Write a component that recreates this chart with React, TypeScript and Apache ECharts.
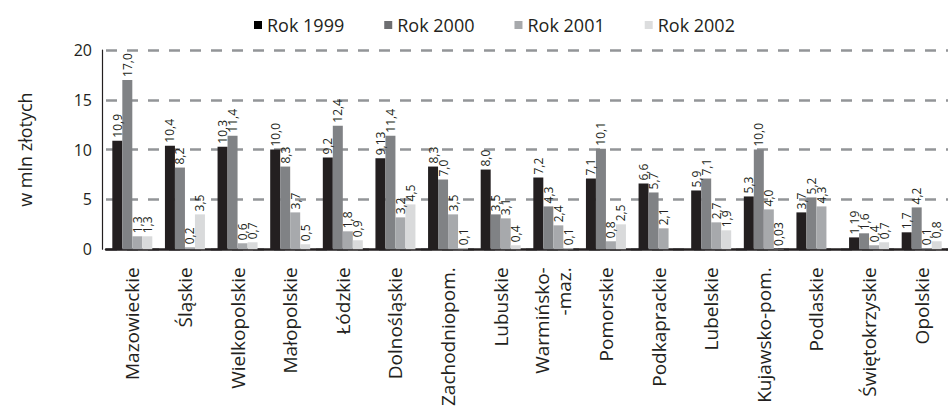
import React, { useEffect, useRef } from "react";
import * as echarts from "echarts";

// Voivodeships (names as printed on the axis)
const regions = [
  "Mazowieckie",
  "Śląskie",
  "Wielkopolskie",
  "Małopolskie",
  "Łódzkie",
  "Dolnośląskie",
  "Zachodniopom.",
  "Lubuskie",
  "Warmińsko-\n-maz.",
  "Pomorskie",
  "Podkaprackie",
  "Lubelskie",
  "Kujawsko-pom.",
  "Podlaskie",
  "Świętokrzyskie",
  "Opolskie",
];

// Amounts in mln PLN per year
const rok1999 = [10.9, 10.4, 10.3, 10.0, 9.2, 9.13, 8.3, 8.0, 7.2, 7.1, 6.6, 5.9, 5.3, 3.7, 1.19, 1.7];
const rok2000 = [17.0, 8.2, 11.4, 8.3, 12.4, 11.4, 7.0, 3.5, 4.3, 10.1, 5.7, 7.1, 10.0, 5.2, 1.6, 4.2];
const rok2001 = [1.3, 0.2, 0.6, 3.7, 1.8, 3.2, 3.5, 3.1, 2.4, 0.8, 2.1, 2.7, 4.0, 4.3, 0.4, 0.1];
const rok2002 = [1.3, 3.5, 0.7, 0.5, 0.9, 4.5, 0.1, 0.4, 0.1, 2.5, null, 1.9, 0.03, null, 0.7, 0.8];

const seriesNames = ["Rok 1999", "Rok 2000", "Rok 2001", "Rok 2002"];
const barColors = ["#231f20", "#808285", "#a7a9ac", "#d9dadb"];
const legendColors = ["#000000", "#6d6e71", "#a7a9ac", "#dcddde"];

const yTicks = { min: 0, max: 20, interval: 5 };

const FONT = "'Open Sans', sans-serif";
const INK = "#231f20";

// Polish decimal comma, one decimal place unless the value carries more
function formatPl(v: number): string {
  const s = Math.abs(v * 10 - Math.round(v * 10)) > 1e-6 ? v.toFixed(2) : v.toFixed(1);
  return s.replace(".", ",");
}

export default function App() {
  const ref = useRef<HTMLDivElement>(null);

  useEffect(() => {
    document.body.style.margin = "0";
    if (!ref.current) return;
    const chart = echarts.init(ref.current, null, { renderer: "svg" });

    const data = [rok1999, rok2000, rok2001, rok2002];

    chart.setOption({
      animation: false,
      backgroundColor: "#ffffff",
      textStyle: { fontFamily: FONT },
      legend: {
        left: 249,
        top: 11,
        itemWidth: 8,
        itemHeight: 8,
        itemGap: 40,
        icon: "rect",
        textStyle: { fontFamily: FONT, fontSize: 18, color: INK },
        data: seriesNames.map((name, i) => ({
          name,
          itemStyle: { color: legendColors[i] },
        })),
      },
      grid: { left: 106, top: 50, width: 848, bottom: 158 },
      xAxis: {
        type: "category",
        data: regions,
        axisLine: { show: true, lineStyle: { color: INK, width: 2.5 } },
        axisTick: { show: false },
        axisLabel: {
          rotate: 90,
          interval: 0,
          margin: 18,
          fontFamily: FONT,
          fontSize: 19,
          lineHeight: 22,
          color: INK,
        },
      },
      yAxis: {
        type: "value",
        min: yTicks.min,
        max: yTicks.max,
        interval: yTicks.interval,
        offset: 4,
        name: "w mln złotych",
        nameLocation: "middle",
        nameRotate: 90,
        nameGap: 68,
        nameTextStyle: { fontFamily: FONT, fontSize: 18, color: INK },
        axisLine: { show: true, lineStyle: { color: INK, width: 1.2 } },
        axisTick: { show: false },
        axisLabel: { fontFamily: FONT, fontSize: 16, color: INK, margin: 10 },
        splitLine: {
          show: true,
          lineStyle: { color: "#939598", width: 2.5, type: [11, 10] },
        },
      },
      series: seriesNames.map((name, i) => ({
        name,
        type: "bar",
        data: data[i],
        barWidth: 10,
        barGap: "0%",
        itemStyle: { color: barColors[i] },
        label: {
          show: true,
          position: "top",
          rotate: 90,
          align: "left",
          verticalAlign: "middle",
          distance: 3,
          fontFamily: FONT,
          fontSize: 12,
          color: INK,
          formatter: (p: any) => (p.value == null ? "" : formatPl(p.value)),
        },
      })),
    });

    return () => chart.dispose();
  }, []);

  return <div ref={ref} style={{ width: 948, height: 409 }} />;
}
